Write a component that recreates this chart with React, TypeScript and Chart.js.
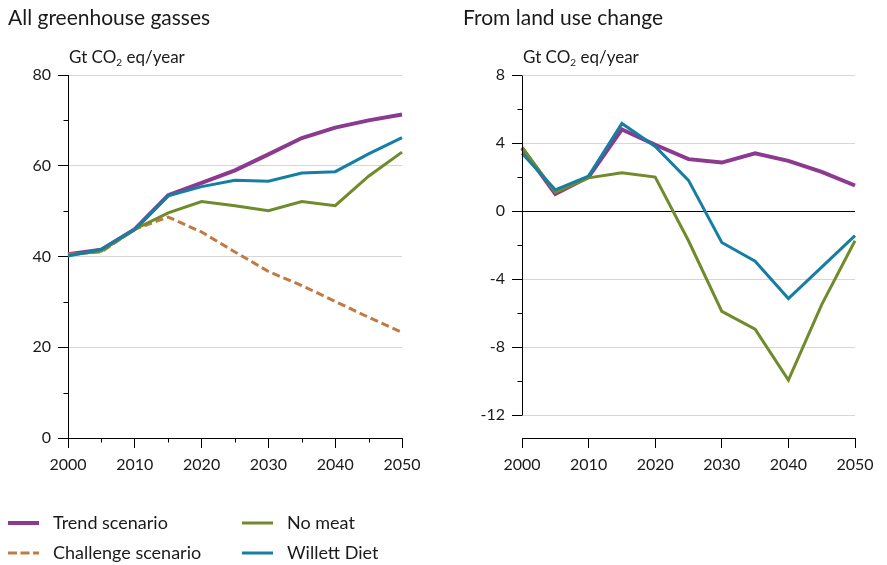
import React, { useEffect, useRef } from 'react';
import { Chart, registerables } from 'chart.js';
Chart.register(...registerables);

const years = ['2000', '2005', '2010', '2015', '2020', '2025', '2030', '2035', '2040', '2045', '2050'];

// All greenhouse gasses (Gt CO2 eq/year)
const ghgTrend = [40.5, 41.5, 46, 53.5, 56.2, 59, 62.5, 66.1, 68.4, 70, 71.3];
const ghgChallenge = [40.5, 41, 46, 48.7, 45.4, 41, 36.7, 33.6, 30.1, 26.6, 23.3];
const ghgNoMeat = [40.3, 41.2, 46, 49.6, 52.1, 51.2, 50.1, 52.1, 51.2, 57.7, 63];
const ghgWillett = [40.1, 41.6, 46, 53.4, 55.4, 56.8, 56.6, 58.4, 58.7, 62.6, 66.2];

// From land use change (Gt CO2 eq/year)
const lucTrend = [3.7, 1.0, 2.0, 4.8, 3.9, 3.05, 2.85, 3.4, 2.95, 2.3, 1.5];
const lucNoMeat = [3.75, 1.1, 1.95, 2.25, 2.0, -1.75, -5.9, -6.95, -9.95, -5.5, -1.75];
const lucWillett = [3.4, 1.25, 2.05, 5.15, 3.8, 1.8, -1.85, -2.95, -5.15, -3.3, -1.45];

const leftYTicks = [0, 10, 20, 30, 40, 50, 60, 70, 80];
const rightYTicks = [-12, -10, -8, -6, -4, -2, 0, 2, 4, 6, 8];

const PURPLE = '#8b3a8f';
const BROWN = '#c17a44';
const GREEN = '#6f8b2b';
const BLUE = '#157fa3';
const GRID = '#d6d6d6';
const TEXT = '#1a1a1a';
const FONT = 'Lato, "Open Sans", sans-serif';

const legendItems = [
  { label: 'Trend scenario', color: PURPLE, width: 4, dash: '', col: 0, row: 0 },
  { label: 'No meat', color: GREEN, width: 3, dash: '', col: 1, row: 0 },
  { label: 'Challenge scenario', color: BROWN, width: 3, dash: '9 3.5', col: 0, row: 1 },
  { label: 'Willett Diet', color: BLUE, width: 3, dash: '', col: 1, row: 1 },
];

function minorPlugin(yMinor: number[], xMinorIdx: number[], yLine: [number, number] | null) {
  return {
    id: 'minorTicks',
    afterDraw(chart: any) {
      const ctx = chart.ctx;
      const { left, bottom } = chart.chartArea;
      const xs = chart.scales.x;
      const ys = chart.scales.y;
      ctx.save();
      ctx.strokeStyle = '#000';
      ctx.lineWidth = 1;
      ctx.beginPath();
      const lx = Math.round(left) + 0.5;
      yMinor.forEach((v) => {
        const py = Math.round(ys.getPixelForValue(v)) + 0.5;
        ctx.moveTo(lx - 5, py);
        ctx.lineTo(lx, py);
      });
      const by = Math.round(bottom) + 0.5;
      xMinorIdx.forEach((i) => {
        const px = Math.round(xs.getPixelForValue(i)) + 0.5;
        ctx.moveTo(px, by);
        ctx.lineTo(px, by + 4);
      });
      if (yLine) {
        ctx.moveTo(lx, Math.round(ys.getPixelForValue(yLine[0])) + 0.5);
        ctx.lineTo(lx, Math.round(ys.getPixelForValue(yLine[1])) + 0.5);
      }
      ctx.stroke();
      ctx.restore();
    },
  };
}

const tickFont = { family: FONT, size: 16 };

function leftConfig(): any {
  return {
    type: 'line',
    data: {
      labels: years,
      datasets: [
        { label: 'Trend scenario', data: ghgTrend, borderColor: PURPLE, borderWidth: 4, order: 3 },
        { label: 'Challenge scenario', data: ghgChallenge, borderColor: BROWN, borderWidth: 3, borderDash: [8, 4], order: 2 },
        { label: 'No meat', data: ghgNoMeat, borderColor: GREEN, borderWidth: 3, order: 1 },
        { label: 'Willett Diet', data: ghgWillett, borderColor: BLUE, borderWidth: 3, order: 0 },
      ],
    },
    options: {
      animation: false,
      responsive: false,
      layout: { padding: { left: 8, top: 75, right: 43, bottom: 87 } },
      elements: { point: { radius: 0 }, line: { tension: 0, fill: false } },
      plugins: { legend: { display: false }, tooltip: { enabled: false } },
      scales: {
        x: {
          type: 'category',
          offset: false,
          grid: {
            drawOnChartArea: false,
            tickLength: 10,
            tickColor: (c: any) => (c.index % 2 === 0 ? '#000' : 'rgba(0,0,0,0)'),
          },
          border: { color: '#000' },
          ticks: {
            autoSkip: false,
            maxRotation: 0,
            padding: 7,
            color: TEXT,
            font: tickFont,
            callback: (_v: any, i: number) => (i % 2 === 0 ? years[i] : ''),
          },
          afterFit: (s: any) => { s.height = 40; },
        },
        y: {
          min: 0,
          max: 80,
          afterBuildTicks: (s: any) => { s.ticks = leftYTicks.map((v) => ({ value: v })); },
          ticks: {
            padding: 7,
            color: TEXT,
            font: tickFont,
            callback: (v: any) => (v % 20 === 0 ? String(v) : ''),
          },
          grid: {
            tickLength: 10,
            color: (c: any) => (c.tick && c.tick.value % 20 === 0 && c.tick.value !== 0 ? GRID : 'rgba(0,0,0,0)'),
            tickColor: (c: any) => (c.tick && c.tick.value % 20 === 0 ? '#000' : 'rgba(0,0,0,0)'),
          },
          border: { color: '#000' },
          afterFit: (s: any) => { s.width = 60; },
        },
      },
    },
    plugins: [minorPlugin([10, 30, 50, 70], [1, 3, 5, 7, 9], null)],
  };
}

function rightConfig(): any {
  return {
    type: 'line',
    data: {
      labels: years,
      datasets: [
        { label: 'Trend scenario', data: lucTrend, borderColor: PURPLE, borderWidth: 4, order: 3 },
        { label: 'No meat', data: lucNoMeat, borderColor: GREEN, borderWidth: 3, order: 1 },
        { label: 'Willett Diet', data: lucWillett, borderColor: BLUE, borderWidth: 3, order: 0 },
      ],
    },
    options: {
      animation: false,
      responsive: false,
      layout: { padding: { left: 17, top: 75, right: 32, bottom: 87 } },
      elements: { point: { radius: 0 }, line: { tension: 0, fill: false } },
      plugins: { legend: { display: false }, tooltip: { enabled: false } },
      scales: {
        x: {
          type: 'category',
          offset: false,
          grid: {
            drawOnChartArea: false,
            tickLength: 10,
            tickColor: (c: any) => (c.index % 2 === 0 ? '#000' : 'rgba(0,0,0,0)'),
          },
          border: { color: '#000' },
          ticks: {
            autoSkip: false,
            maxRotation: 0,
            padding: 7,
            color: TEXT,
            font: tickFont,
            callback: (_v: any, i: number) => (i % 2 === 0 ? years[i] : ''),
          },
          afterFit: (s: any) => { s.height = 40; },
        },
        y: {
          min: -13.35,
          max: 8,
          afterBuildTicks: (s: any) => { s.ticks = rightYTicks.map((v) => ({ value: v })); },
          ticks: {
            padding: 7,
            color: TEXT,
            font: tickFont,
            callback: (v: any) => (v % 4 === 0 ? String(v) : ''),
          },
          grid: {
            tickLength: 10,
            color: (c: any) => {
              const v = c.tick ? c.tick.value : 1;
              if (v === 0) return '#000';
              return v % 4 === 0 ? GRID : 'rgba(0,0,0,0)';
            },
            tickColor: (c: any) => (c.tick && c.tick.value % 4 === 0 ? '#000' : 'rgba(0,0,0,0)'),
          },
          border: { display: false },
          afterFit: (s: any) => { s.width = 60; },
        },
      },
    },
    plugins: [minorPlugin([-10, -6, -2, 2, 6], [], [8, -12])],
  };
}

function ChartCanvas({ config, left, width, height }: { config: () => any; left: number; width: number; height: number }) {
  const ref = useRef<HTMLCanvasElement | null>(null);
  useEffect(() => {
    if (!ref.current) return;
    const chart = new Chart(ref.current, config());
    return () => chart.destroy();
  }, []);
  return (
    <canvas
      ref={ref}
      width={width}
      height={height}
      style={{ position: 'absolute', left, top: 0, width, height }}
    />
  );
}

const textBase: React.CSSProperties = {
  position: 'absolute',
  fontFamily: FONT,
  color: TEXT,
  whiteSpace: 'nowrap',
  lineHeight: 1,
};

export default function App() {
  return (
    <div style={{ position: 'absolute', left: 0, top: 0, width: 887, height: 565, background: '#fff', overflow: 'hidden' }}>
      <ChartCanvas config={leftConfig} left={0} width={445} height={565} />
      <ChartCanvas config={rightConfig} left={445} width={442} height={565} />
      <div style={{ ...textBase, left: 8, top: 6, fontSize: 21 }}>All greenhouse gasses</div>
      <div style={{ ...textBase, left: 463, top: 6, fontSize: 21 }}>From land use change</div>
      <div style={{ ...textBase, left: 69, top: 48, fontSize: 17 }}>
        Gt CO<span style={{ fontSize: 10, verticalAlign: -3 }}>2</span> eq/year
      </div>
      <div style={{ ...textBase, left: 523, top: 48, fontSize: 17 }}>
        Gt CO<span style={{ fontSize: 10, verticalAlign: -3 }}>2</span> eq/year
      </div>
      {legendItems.map((it) => {
        const x = it.col === 0 ? 8 : 242;
        const cy = it.row === 0 ? 523 : 553;
        return (
          <div key={it.label}>
            <svg style={{ position: 'absolute', left: x, top: cy - 4 }} width={31} height={8}>
              <line x1={0} y1={4} x2={31} y2={4} stroke={it.color} strokeWidth={it.width} strokeDasharray={it.dash || undefined} />
            </svg>
            <div style={{ ...textBase, left: x + 45, top: cy - 10, fontSize: 18 }}>{it.label}</div>
          </div>
        );
      })}
    </div>
  );
}
